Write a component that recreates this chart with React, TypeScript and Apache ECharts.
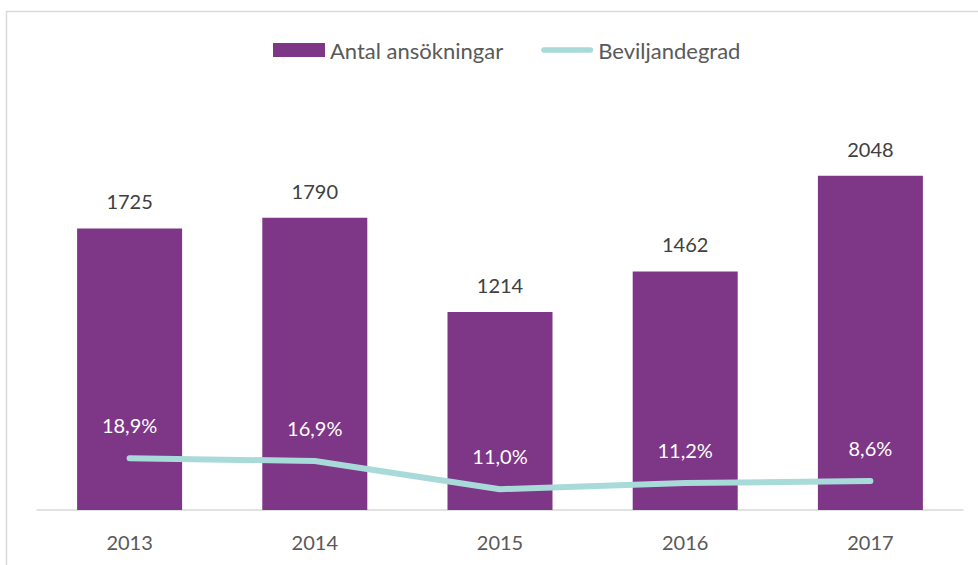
import React, { useEffect, useRef } from "react";
import * as echarts from "echarts";

const years = ["2013", "2014", "2015", "2016", "2017"];
const applications = [1725, 1790, 1214, 1462, 2048];
// Approval rate as printed in the labels (percent)
const approvalRate = [18.9, 16.9, 11.0, 11.2, 8.6];
// Line height as drawn in the picture, on the secondary (0–100) scale
const approvalLine = [12.7, 12.0, 5.1, 6.6, 7.1];

const FONT = "Lato, 'Open Sans', sans-serif";
const PURPLE = "#7E3687";
const TEAL = "#A9DADA";

export default function App() {
  const ref = useRef<HTMLDivElement>(null);
  useEffect(() => {
    if (!ref.current) return;
    const chart = echarts.init(ref.current, undefined, { renderer: "svg" });
    chart.setOption({
      animation: false,
      backgroundColor: "#ffffff",
      textStyle: { fontFamily: FONT },
      graphic: [
        {
          type: "rect",
          shape: { x: 6.5, y: 11.5, width: 1200, height: 800 },
          style: { fill: "none", stroke: "#D9D9D9", lineWidth: 1.5 },
          silent: true,
        },
      ],
      legend: {
        top: 34,
        left: 268,
        itemWidth: 52,
        itemHeight: 14,
        itemGap: 38,
        textStyle: { fontSize: 22, color: "#595959", fontFamily: FONT },
        data: [
          { name: "Antal ansökningar", icon: "rect" },
          {
            name: "Beviljandegrad",
            icon: "path://M3,0 L53,0 A3,3 0 0 1 53,6 L3,6 A3,3 0 0 1 3,0 Z",
            itemStyle: { color: TEAL, opacity: 1, borderWidth: 0 },
          },
        ],
      },
      grid: { left: 37, right: 15, top: 102, bottom: 55, containLabel: false },
      xAxis: {
        type: "category",
        data: years,
        axisTick: { show: false },
        axisLine: { lineStyle: { color: "#D9D9D9", width: 1.5 } },
        axisLabel: { fontSize: 20, color: "#595959", margin: 22, fontFamily: FONT },
      },
      yAxis: [
        { type: "value", min: 0, max: 2500, show: false, splitLine: { show: false } },
        { type: "value", min: 0, max: 100, show: false, splitLine: { show: false } },
      ],
      series: [
        {
          name: "Antal ansökningar",
          type: "bar",
          data: applications,
          barWidth: 105,
          itemStyle: { color: PURPLE },
          label: {
            show: true,
            position: "top",
            distance: 17,
            fontSize: 20,
            color: "#404040",
            fontFamily: FONT,
          },
        },
        {
          name: "Beviljandegrad",
          type: "line",
          yAxisIndex: 1,
          data: approvalLine,
          symbol: "circle",
          symbolSize: 0.1,
          showSymbol: true,
          lineStyle: { color: TEAL, width: 6, cap: "round" },
          itemStyle: { color: TEAL },
          label: {
            show: true,
            position: "top",
            distance: 23,
            fontSize: 20,
            color: "#ffffff",
            fontFamily: FONT,
            formatter: (p: any) => approvalRate[p.dataIndex].toFixed(1).replace(".", ",") + "%",
          },
        },
      ],
    });
    return () => chart.dispose();
  }, []);
  return (
    <div
      ref={ref}
      style={{ position: "fixed", left: 0, top: 0, width: 978, height: 565 }}
    />
  );
}
